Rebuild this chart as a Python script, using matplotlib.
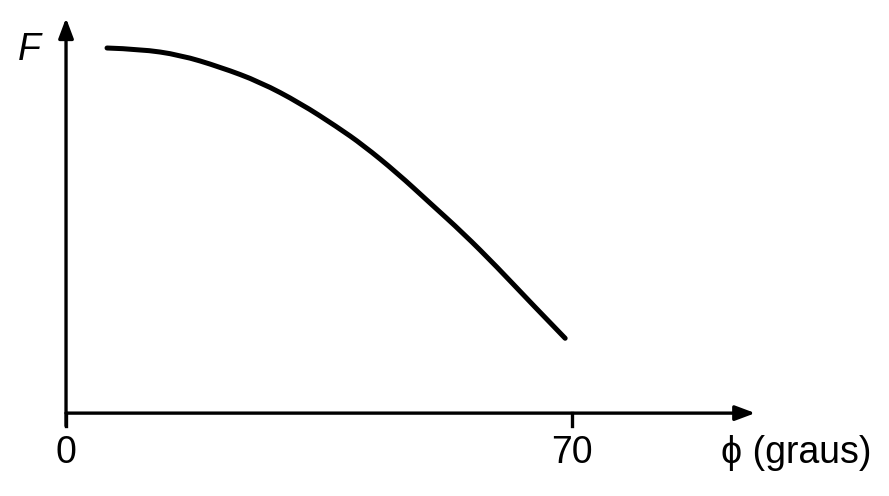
import numpy as np
import matplotlib
matplotlib.use("Agg")
import matplotlib.pyplot as plt
from matplotlib.path import Path
from matplotlib.patches import PathPatch

# curve: angle (graus) vs F (relative units)
phi = [5.67, 10.24, 15.77, 21.30, 26.83, 32.37, 37.48, 41.08, 45.78, 50.35,
       54.91, 59.61, 64.18, 69.02]
force = [1.000, 0.997, 0.981, 0.948, 0.907, 0.849, 0.784, 0.734, 0.658, 0.575,
         0.493, 0.400, 0.304, 0.205]

x_ticks = [0, 70]
x_label = "\u03d5 (graus)"
y_label = "F"

x_end = 95.3
y_end = 1.082

plt.rcParams["font.family"] = ["Liberation Sans", "DejaVu Sans"]

fig = plt.figure(figsize=(8.89, 4.96), dpi=100)
ax = fig.add_axes([0, 0, 1, 1])
ax.set_xlim(-9.13, 113.8)
ax.set_ylim(-0.227, 1.1315)
ax.axis("off")

# smooth quadratic bezier through the read points
pts = list(zip(phi, force))
verts = [pts[0]]
codes = [Path.MOVETO]
for i in range(1, len(pts) - 1):
    mid = ((pts[i][0] + pts[i + 1][0]) / 2, (pts[i][1] + pts[i + 1][1]) / 2)
    if i == len(pts) - 2:
        mid = pts[i + 1]
    verts += [pts[i], mid]
    codes += [Path.CURVE3, Path.CURVE3]
ax.add_patch(PathPatch(Path(verts, codes), fill=False, edgecolor="black",
                       lw=3.6, capstyle="round"))

arrow = dict(arrowstyle="-|>,head_length=1.2,head_width=0.45", color="black", lw=2.4,
             shrinkA=0, shrinkB=0)
ax.annotate("", xy=(x_end, 0), xytext=(0, 0), arrowprops=arrow)
ax.annotate("", xy=(0, y_end), xytext=(0, -0.035), arrowprops=arrow)

for t in x_ticks:
    ax.plot([t, t], [0, -0.035], color="black", lw=2.4)
    ax.text(t, -0.11, str(t), ha="center", va="center", fontsize=27)

ax.text(101.0, -0.11, x_label, ha="center", va="center", fontsize=27)
ax.text(-5.1, 0.995, y_label, ha="center", va="center", fontsize=27, style="italic")

fig.savefig("out.png", dpi=100)
